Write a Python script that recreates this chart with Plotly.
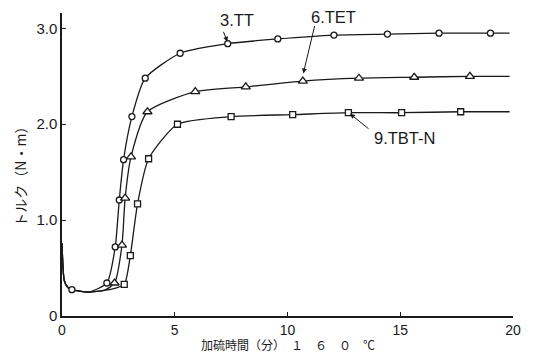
import plotly.graph_objects as go

# --- data (time in min, torque in N·m) ---
onset_time = [0.0, 0.1, 0.25, 0.44, 1.2]
onset_torque = [0.76, 0.37, 0.30, 0.275, 0.25]

time_tt = [0.44, 1.99, 2.36, 2.54, 2.73, 3.10, 3.69, 5.24, 7.35, 9.57, 12.06, 14.43, 16.72, 19.00]
torque_tt = [0.275, 0.344, 0.72, 1.21, 1.63, 2.08, 2.48, 2.74, 2.84, 2.89, 2.93, 2.94, 2.95, 2.95]

time_tet = [2.33, 2.66, 2.80, 3.06, 3.79, 5.91, 8.15, 10.68, 13.17, 15.62, 18.09]
torque_tet = [0.344, 0.74, 1.23, 1.66, 2.13, 2.34, 2.39, 2.45, 2.48, 2.49, 2.50]

time_tbt = [2.76, 3.03, 3.35, 3.84, 5.12, 7.50, 10.23, 12.70, 15.06, 17.68]
torque_tbt = [0.33, 0.63, 1.17, 1.64, 2.00, 2.08, 2.10, 2.12, 2.12, 2.13]

# extra curve points between markers (line only)
tet_pre_time, tet_pre_torque = [1.9], [0.27]
tbt_pre_time, tbt_pre_torque = [2.2], [0.28]
end_time = 19.85
end_torque = {"tt": 2.95, "tet": 2.50, "tbt": 2.13}

x_ticks = [0, 5, 10, 15, 20]
y_ticks = [0, 1, 2, 3]
y_ticktext = ["0", "1.0", "2.0", "3.0"]

INK = "#1a1a1a"
FONT = "Liberation Sans, Arial, sans-serif"
JFONT = "Noto Sans CJK JP, sans-serif"

fig = go.Figure()

lines = {
    "tt": (onset_time + time_tt[1:] + [end_time], onset_torque + torque_tt[1:] + [end_torque["tt"]]),
    "tet": (onset_time + tet_pre_time + time_tet + [end_time], onset_torque + tet_pre_torque + torque_tet + [end_torque["tet"]]),
    "tbt": (onset_time + tbt_pre_time + time_tbt + [end_time], onset_torque + tbt_pre_torque + torque_tbt + [end_torque["tbt"]]),
}
for k, (xs, ys) in lines.items():
    fig.add_trace(go.Scatter(x=xs, y=ys, mode="lines", line=dict(color=INK, width=1.3, shape="spline", smoothing=0.6),
                             hoverinfo="skip", showlegend=False))

markers = [
    (time_tt, torque_tt, "circle", 6),
    (time_tet, torque_tet, "triangle-up", 8),
    (time_tbt, torque_tbt, "square", 6),
]
for xs, ys, sym, sz in markers:
    fig.add_trace(go.Scatter(x=xs, y=ys, mode="markers",
                             marker=dict(symbol=sym, size=sz, color="white", line=dict(color=INK, width=1.3)),
                             showlegend=False))

labels = [
    ("3.TT", 7.77, 3.09, 7.13, 2.98, 7.34, 2.86),
    ("6.TET", 12.06, 3.12, 11.22, 3.04, 10.70, 2.53),
    ("9.TBT-N", 15.20, 1.855, 13.66, 1.94, 12.77, 2.11),
]
for txt, tx, ty, ax_, ay_, hx, hy in labels:
    fig.add_annotation(x=tx, y=ty, text=txt, showarrow=False, font=dict(family=FONT, size=16.5, color=INK))
    fig.add_annotation(x=hx, y=hy, ax=ax_, ay=ay_, axref="x", ayref="y", xref="x", yref="y",
                       text="", showarrow=True, arrowhead=2, arrowsize=1, arrowwidth=1, arrowcolor=INK)

fig.add_annotation(xref="paper", yref="paper", x=-0.093, y=0.47, xanchor="center", yanchor="middle",
                   text="トルク（N・m）", textangle=-90,
                   showarrow=False, font=dict(family=JFONT, size=14, color=INK))
fig.add_annotation(xref="paper", yref="paper", x=0.5, y=-0.094, xanchor="center", yanchor="middle",
                   text="加硫時間（分）　１　６　０　℃",
                   showarrow=False, font=dict(family=JFONT, size=12, color=INK))

# page body has an 8px default margin, so margins are shifted to compensate
fig.update_layout(
    template="none",
    width=533, height=353,
    margin=dict(l=54, r=28, t=5, b=45.4, autoexpand=False),
    paper_bgcolor="white", plot_bgcolor="white",
    xaxis=dict(range=[0, 20], tickvals=x_ticks, ticks="inside", ticklen=4, tickcolor=INK, automargin=False,
               showline=True, linecolor=INK, linewidth=1.5, showgrid=False, zeroline=False,
               tickfont=dict(family=FONT, size=14, color=INK)),
    yaxis=dict(range=[0, 3.16], tickvals=y_ticks, ticktext=y_ticktext, ticks="inside", ticklen=4, tickcolor=INK,
               automargin=False,
               showline=True, linecolor=INK, linewidth=1.5, showgrid=False, zeroline=False,
               tickfont=dict(family=FONT, size=15, color=INK)),
)

fig.write_html("out.html")
